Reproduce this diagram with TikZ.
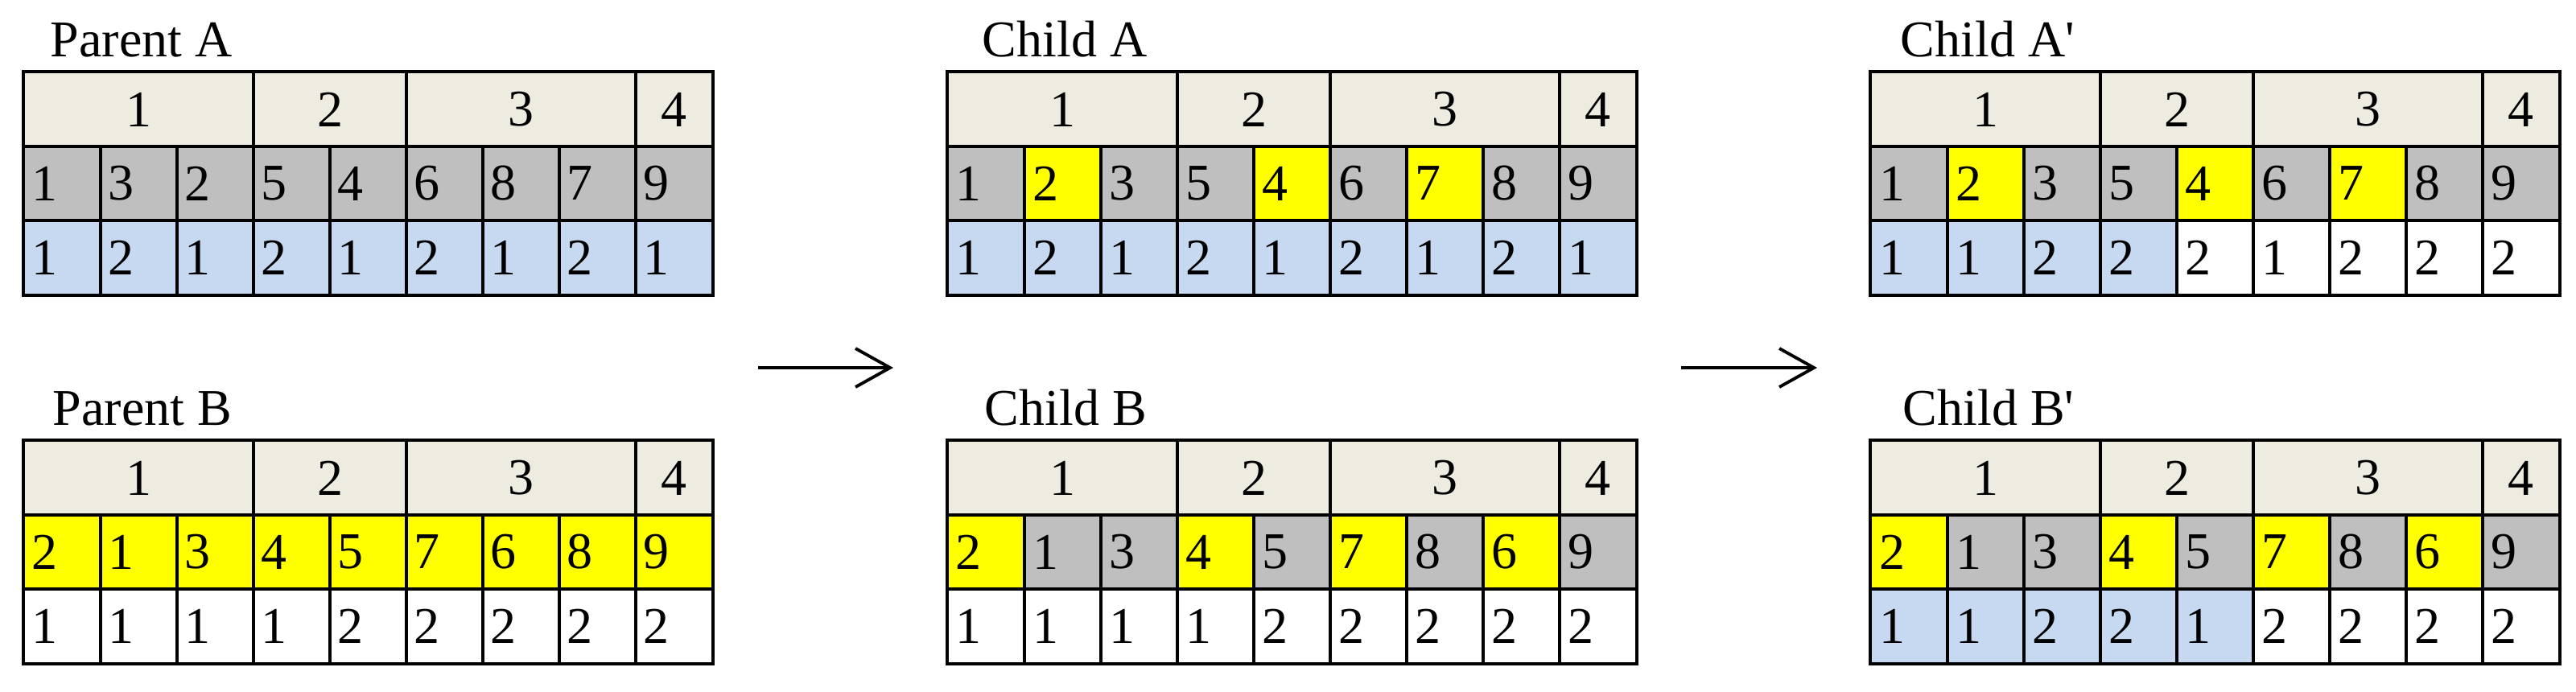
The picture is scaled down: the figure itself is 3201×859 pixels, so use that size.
\documentclass[tikz,border=0pt]{standalone}
\usepackage{fontspec}
\setmainfont{Liberation Serif}
\usetikzlibrary{arrows.meta}
\definecolor{hdr}{HTML}{EEECE1}
\definecolor{gry}{HTML}{BFBFBF}
\definecolor{blu}{HTML}{C6D9F1}
\definecolor{ylw}{HTML}{FFFF00}
\tikzset{
  txt/.style={font=\fontsize{18.2}{21}\selectfont},
  hcell/.style={txt, fill=hdr, inner sep=0pt, minimum height=0.92cm},
  dcell/.style={txt, inner ysep=0pt, inner xsep=0.1cm, text width=0.75cm, align=left, minimum width=0.95cm, minimum height=0.92cm},
  gridline/.style={draw=black, line width=0.85pt},
  outerline/.style={draw=black, line width=1.15pt},
  lbl/.style={txt, anchor=base west, inner sep=0pt},
  arr/.style={line width=1.1pt, -{Straight Barb[length=0.43cm, width=0.48cm, line width=1.1pt]}}
}
\newcommand\gtab[5]{%
  \node[hcell, minimum width=2.85cm] (#1-h1) at (#2+142.5,#3+46) {1};
  \node[hcell, minimum width=1.9cm]  (#1-h2) at (#2+380,#3+46) {2};
  \node[hcell, minimum width=2.85cm] (#1-h3) at (#2+617.5,#3+46) {3};
  \node[hcell, minimum width=0.95cm] (#1-h4) at (#2+807.5,#3+46) {4};
  \foreach \v/\c [count=\i] in {#4} {\node[dcell, fill=\c] (#1-a\i) at (#2+95*\i-47.5,#3+138) {\v};}
  \foreach \v/\c [count=\i] in {#5} {\node[dcell, fill=\c] (#1-b\i) at (#2+95*\i-47.5,#3+230) {\v};}
  \foreach \n in {h1,h2,h3,h4} {\draw[gridline] (#1-\n.north west) rectangle (#1-\n.south east);}
  \foreach \i in {1,...,9} {\draw[gridline] (#1-a\i.north west) rectangle (#1-a\i.south east);
    \draw[gridline] (#1-b\i.north west) rectangle (#1-b\i.south east);}
  \draw[outerline] (#1-h1.north west) rectangle (#1-b9.south east);
}
\begin{document}
\begin{tikzpicture}[x=0.01cm, y=-0.01cm]
\useasboundingbox[fill=white] (0,0) rectangle (3201,859);

% Parent A
\node[lbl] (lpa) at (62,70) {Parent A};
\gtab{pa}{30}{90}{1/gry,3/gry,2/gry,5/gry,4/gry,6/gry,8/gry,7/gry,9/gry}{1/blu,2/blu,1/blu,2/blu,1/blu,2/blu,1/blu,2/blu,1/blu}
% Parent B
\node[lbl] (lpb) at (65,528) {Parent B};
\gtab{pb}{30}{548}{2/ylw,1/ylw,3/ylw,4/ylw,5/ylw,7/ylw,6/ylw,8/ylw,9/ylw}{1/white,1/white,1/white,1/white,2/white,2/white,2/white,2/white,2/white}
% Child A
\node[lbl] (lca) at (1220,70) {Child A};
\gtab{ca}{1178}{90}{1/gry,2/ylw,3/gry,5/gry,4/ylw,6/gry,7/ylw,8/gry,9/gry}{1/blu,2/blu,1/blu,2/blu,1/blu,2/blu,1/blu,2/blu,1/blu}
% Child B
\node[lbl] (lcb) at (1223,528) {Child B};
\gtab{cb}{1178}{548}{2/ylw,1/gry,3/gry,4/ylw,5/gry,7/ylw,8/gry,6/ylw,9/gry}{1/white,1/white,1/white,1/white,2/white,2/white,2/white,2/white,2/white}
% Child A'
\node[lbl] (lcap) at (2361,70) {Child A\textquotesingle};
\gtab{cap}{2325}{90}{1/gry,2/ylw,3/gry,5/gry,4/ylw,6/gry,7/ylw,8/gry,9/gry}{1/blu,1/blu,2/blu,2/blu,2/white,1/white,2/white,2/white,2/white}
% Child B'
\node[lbl] (lcbp) at (2364,528) {Child B\textquotesingle};
\gtab{cbp}{2325}{548}{2/ylw,1/gry,3/gry,4/ylw,5/gry,7/ylw,8/gry,6/ylw,9/gry}{1/blu,1/blu,2/blu,2/blu,1/blu,2/white,2/white,2/white,2/white}

% arrows
\coordinate (ar1s) at (942,457);
\coordinate (ar1e) at (1110,457);
\coordinate (ar2s) at (2089,457);
\coordinate (ar2e) at (2258,457);
\draw[arr] (ar1s) -- (ar1e);
\draw[arr] (ar2s) -- (ar2e);
\end{tikzpicture}
\end{document}
